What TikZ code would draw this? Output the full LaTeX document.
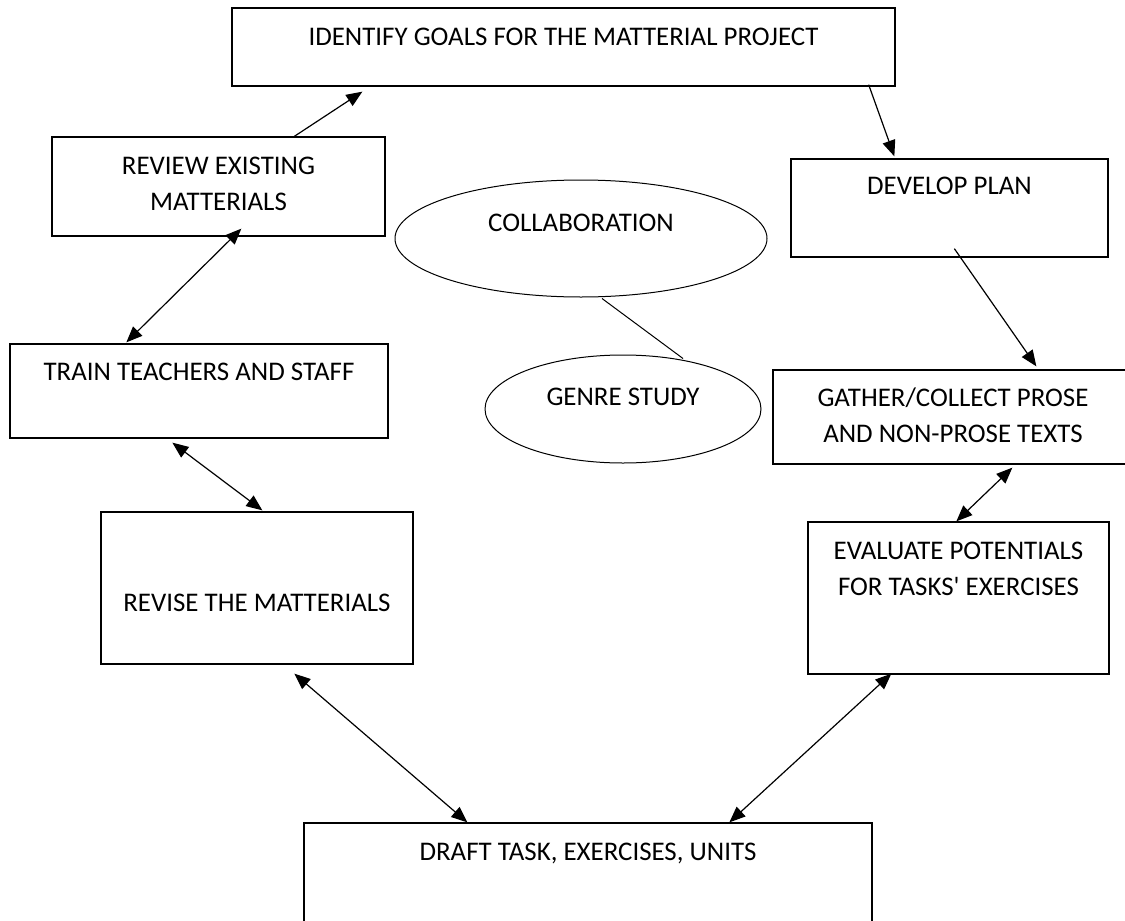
\documentclass[tikz,border=0pt]{standalone}
\usepackage{fontspec}
\setmainfont{Carlito}
\usetikzlibrary{arrows.meta,shapes.geometric,calc}

\begin{document}
\begin{tikzpicture}[
        x=1pt, y=-1pt,
        font=\fontsize{26.9}{36.5}\selectfont,
        stepbox/.style={rectangle, draw, line width=1.3pt, inner sep=0pt},
        bubble/.style={ellipse, draw, line width=1pt, inner sep=0pt},
        boxtext/.style={anchor=base, yshift=-#1, align=center, inner sep=0pt},
        boxtext/.default=38pt,
        link/.style={line width=1.2pt, -{Triangle[length=16pt,width=13pt]}},
        twoway/.style={line width=1.2pt, {Triangle[length=16pt,width=13pt]}-{Triangle[length=16pt,width=13pt]}},
    ]
    \useasboundingbox (0,0) rectangle (1125,921);

    \node[stepbox, minimum width=663pt, minimum height=78pt,
        label={[boxtext]north:IDENTIFY GOALS FOR THE MATTERIAL PROJECT}] (goals) at (563.5,47) {};
    \node[stepbox, minimum width=333pt, minimum height=99pt,
        label={[boxtext=74.5pt]north:{REVIEW EXISTING\\MATTERIALS}}] (review) at (218.5,186.5) {};
    \node[stepbox, minimum width=317pt, minimum height=98pt,
        label={[boxtext=36pt]north:DEVELOP PLAN}] (develop) at (949.5,208) {};
    \node[stepbox, minimum width=378pt, minimum height=94pt,
        label={[boxtext=37pt]north:TRAIN TEACHERS AND STAFF}] (train) at (199,391) {};
    \node[stepbox, minimum width=360pt, minimum height=94pt,
        label={[boxtext=73.5pt]north:{GATHER/COLLECT PROSE\\AND NON-PROSE TEXTS}}] (gather) at (953,417) {};
    \node[stepbox, minimum width=312pt, minimum height=152pt,
        label={[boxtext=100pt]north:REVISE THE MATTERIALS}] (revise) at (257,588) {};
    \node[stepbox, minimum width=301pt, minimum height=152pt,
        label={[boxtext=74.5pt]north:{EVALUATE POTENTIALS\\FOR TASKS\textquotesingle{} EXERCISES}}] (evaluate) at (958.5,598) {};
    \node[stepbox, minimum width=568pt, minimum height=117pt,
        label={[boxtext]north:DRAFT TASK, EXERCISES, UNITS}] (draft) at (588,881.5) {};

    \node[bubble, minimum width=372pt, minimum height=117pt,
        label={[boxtext=52pt]north:COLLABORATION}] (collab) at (581,238.5) {};
    \node[bubble, minimum width=276pt, minimum height=108pt,
        label={[boxtext=51pt]north:GENRE STUDY}] (genre) at (623,409) {};

    \draw[link] ($(review.north west)+(243,0)$) -- ($(goals.south west)+(131,5)$);
    \draw[link] ($(goals.south east)+(-27,-2)$) -- ($(develop.north west)+(104,-2)$);
    \draw[link] ($(develop.south west)+(164,-9)$) -- ($(gather.north west)+(264,-3)$);
    \draw[twoway] ($(review.south west)+(190,-8)$) -- ($(train.north west)+(117,-1)$);
    \draw[twoway] ($(train.south west)+(163,4)$) -- ($(revise.north west)+(162,-1)$);
    \draw[twoway] ($(gather.south west)+(240,3)$) -- ($(evaluate.north west)+(149,0)$);
    \draw[twoway] ($(revise.south west)+(194,9)$) -- ($(draft.north west)+(164,0)$);
    \draw[twoway] ($(evaluate.south west)+(84,-1)$) -- ($(draft.north west)+(426,0)$);
    \draw[line width=1pt] ($(collab.south)+(21,1)$) -- ($(genre.north)+(60,4)$);
\end{tikzpicture}
\end{document}
